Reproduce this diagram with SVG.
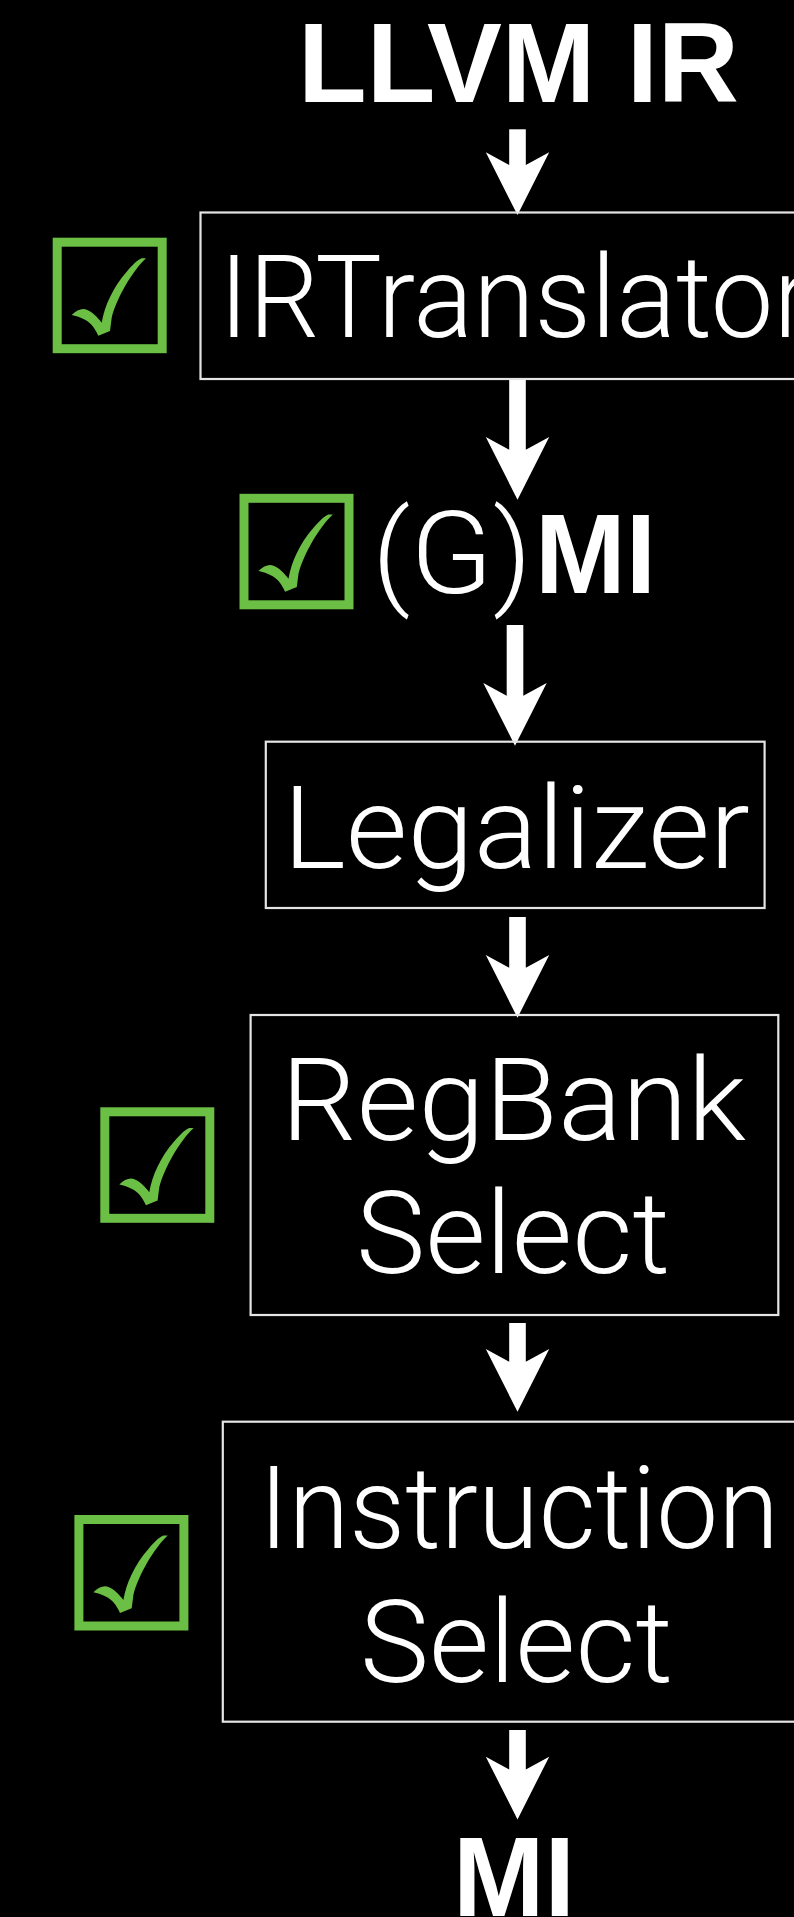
<svg xmlns="http://www.w3.org/2000/svg" xmlns:xlink="http://www.w3.org/1999/xlink" width="794" height="1917" viewBox="0 0 794 1917">
<style>
.box{fill:none;stroke:#e4e4e4;stroke-width:2.2}
.lbl{font-family:Roboto,"Liberation Sans",sans-serif;font-weight:300;font-size:115px;fill:#fff}
.bold{font-family:"Liberation Sans",Arial,sans-serif;font-weight:bold;font-size:114px;fill:#fff}
.cb{fill:none;stroke:#6cbf45;stroke-width:9}
.ck{fill:#6cbf45}
.arr{fill:#fff}
</style>
<defs>
<g id="check">
<rect class="cb" x="4.5" y="4.5" width="105" height="106.5"/>
<path class="ck" d="M93.3,20.6 C80,33 64,60 59,80 L57.3,93.3 L45.6,98 C41,88 36,81 19,77.3 C24,72 30,70 34,72 C40,74 45,80 49,85 C52,68 60,50 74,34 C80,27 85,22 89,20.6 Z"/>
</g>
<path id="head" d="M-31.7,0 L-8.3,12.7 L8.3,12.7 L31.7,0 L0,62.7 Z"/>
</defs>
<rect x="0" y="0" width="794" height="1917" fill="#000"/>

<g id="connectors">
<rect class="arr" x="509.2" y="129.3" width="16.6" height="36"/>
<use xlink:href="#head" href="#head" x="517.5" y="152.3" class="arr"/>
<rect class="arr" x="509.2" y="380" width="16.6" height="70"/>
<use xlink:href="#head" href="#head" x="517.5" y="437" class="arr"/>
<rect class="arr" x="506.7" y="625" width="16.6" height="71"/>
<use xlink:href="#head" href="#head" x="515" y="683" class="arr"/>
<rect class="arr" x="509.2" y="917" width="16.6" height="51"/>
<use xlink:href="#head" href="#head" x="517.5" y="955" class="arr"/>
<rect class="arr" x="509.2" y="1323" width="16.6" height="39"/>
<use xlink:href="#head" href="#head" x="517.5" y="1349" class="arr"/>
<rect class="arr" x="509.2" y="1730" width="16.6" height="40"/>
<use xlink:href="#head" href="#head" x="517.5" y="1756.7" class="arr"/>
</g>

<g id="llvm-ir">
<text class="bold" x="298" y="102" textLength="441" lengthAdjust="spacingAndGlyphs">LLVM IR</text>
</g>

<g id="irtranslator">
<rect class="box" x="200.5" y="212.5" width="660" height="166.5"/>
<text class="lbl" x="219" y="337.3" textLength="592" lengthAdjust="spacingAndGlyphs">IRTranslator</text>
</g>
<g id="check-irtranslator">
<use xlink:href="#check" href="#check" x="52.7" y="237.7"/>
</g>

<g id="gmi">
<text y="592.7"><tspan class="lbl" x="372" textLength="160" lengthAdjust="spacingAndGlyphs">(G)</tspan><tspan class="bold" x="535" textLength="121" lengthAdjust="spacingAndGlyphs">MI</tspan></text>
</g>
<g id="check-gmi">
<use xlink:href="#check" href="#check" x="239.5" y="493.8"/>
</g>

<g id="legalizer">
<rect class="box" x="265.8" y="741.7" width="498.8" height="166.3"/>
<text class="lbl" x="283" y="868" textLength="467" lengthAdjust="spacingAndGlyphs">Legalizer</text>
</g>

<g id="regbankselect">
<rect class="box" x="250.6" y="1015" width="527.7" height="300"/>
<text class="lbl" x="281" y="1140" textLength="465" lengthAdjust="spacingAndGlyphs">RegBank</text>
<text class="lbl" x="356" y="1273.3" textLength="314" lengthAdjust="spacingAndGlyphs">Select</text>
</g>
<g id="check-regbankselect">
<use xlink:href="#check" href="#check" x="100.3" y="1107.3"/>
</g>

<g id="instructionselect">
<rect class="box" x="222.8" y="1421.7" width="640" height="300"/>
<text class="lbl" x="259" y="1547.7" textLength="520" lengthAdjust="spacingAndGlyphs">Instruction</text>
<text class="lbl" x="360" y="1681.7" textLength="313" lengthAdjust="spacingAndGlyphs">Select</text>
</g>
<g id="check-instructionselect">
<use xlink:href="#check" href="#check" x="74.4" y="1515"/>
</g>

<g id="mi">
<text class="bold" x="453" y="1916" textLength="122" lengthAdjust="spacingAndGlyphs">MI</text>
</g>
</svg>
